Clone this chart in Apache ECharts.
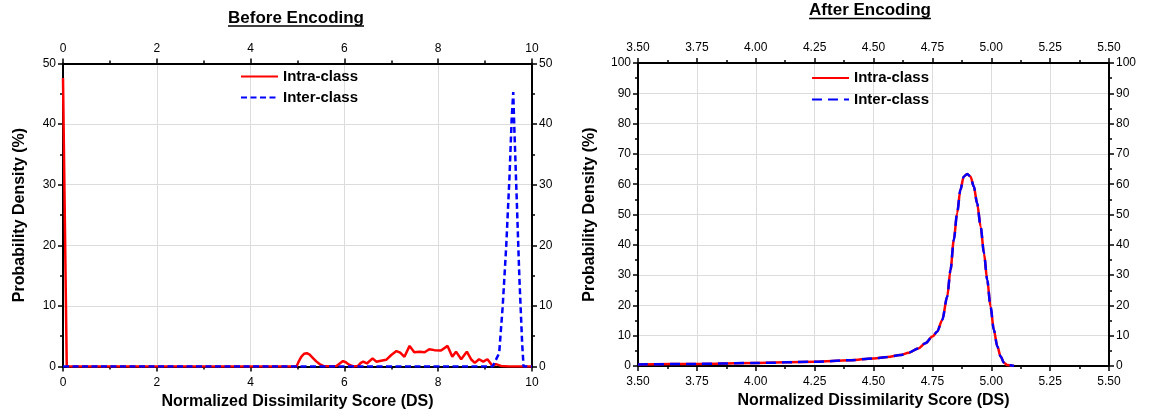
<!DOCTYPE html>
<html>
<head>
<meta charset="utf-8">
<script src="https://cdn.jsdelivr.net/npm/echarts@6/dist/echarts.min.js"></script>
<style>
  html, body { margin: 0; padding: 0; background: #fff; }
  #chart { width: 1149px; height: 418px; }
</style>
</head>
<body>
<div id="chart"></div>
<script>
// Probability density of normalized dissimilarity scores, [DS, density %]
const beforeIntra = [
  [0, 47.6], [0.08, 0], [1, 0], [2, 0], [3, 0], [4, 0], [4.98, 0],
  [5.03, 0.9], [5.08, 1.6], [5.14, 2.1], [5.2, 2.2], [5.26, 1.95], [5.33, 1.4],
  [5.4, 0.85], [5.47, 0.4], [5.55, 0.1], [5.7, 0.05], [5.83, 0.1], [5.9, 0.5],
  [5.97, 0.9], [6.03, 0.7], [6.1, 0.3], [6.19, 0], [6.29, 0.1], [6.35, 0.6],
  [6.4, 0.8], [6.48, 0.5], [6.6, 1.35], [6.68, 0.8], [6.78, 0.95], [6.89, 1.1],
  [7.0, 1.9], [7.11, 2.55], [7.19, 2.3], [7.28, 1.6], [7.39, 3.4], [7.49, 2.35],
  [7.6, 2.45], [7.71, 2.35], [7.81, 2.85], [7.92, 2.7], [8.06, 2.65], [8.2, 3.4],
  [8.3, 1.6], [8.38, 2.45], [8.49, 1.2], [8.61, 2.45], [8.7, 1.2], [8.78, 0.6],
  [8.87, 1.2], [8.96, 0.8], [9.05, 1.2], [9.16, 0.1], [9.23, 0.4], [9.34, 0.1],
  [9.5, 0], [10, 0]
];
const beforeInter = [
  [0, 0], [9.16, 0], [9.3, 2.2], [9.375, 9.9], [9.45, 19.8], [9.52, 31.3],
  [9.566, 40.7], [9.6, 45.3], [9.62, 40.1], [9.67, 28.6], [9.73, 14.8],
  [9.79, 3.8], [9.82, 0], [10, 0]
];
const afterIntra = [
  [3.5, 0.5], [3.75, 0.7], [4.0, 1.0], [4.25, 1.4], [4.4, 1.9], [4.5, 2.5],
  [4.56, 2.95], [4.614, 3.6], [4.65, 4.4], [4.69, 5.8], [4.72, 7.5], [4.75, 9.7],
  [4.77, 11.3], [4.792, 15.2], [4.813, 22.9], [4.827, 31.7], [4.841, 41.6],
  [4.855, 50.4], [4.869, 58.1], [4.883, 62.5], [4.898, 63.4], [4.912, 62.5],
  [4.926, 59.2], [4.94, 53.7], [4.955, 46], [4.969, 37.2], [4.983, 28.4],
  [4.997, 19.6], [5.011, 11.9], [5.026, 6.4], [5.04, 3.1], [5.054, 1.1],
  [5.068, 0.3], [5.097, 0]
];
const afterInter = [
  [3.5, 0.5], [3.75, 0.7], [4.0, 1.0], [4.25, 1.4], [4.4, 1.9], [4.5, 2.5],
  [4.56, 2.95], [4.614, 3.6], [4.65, 4.4], [4.69, 5.8], [4.72, 7.5], [4.75, 9.7],
  [4.77, 11.3], [4.792, 15.2], [4.813, 22.9], [4.827, 31.7], [4.841, 41.6],
  [4.855, 50.4], [4.869, 58.1], [4.883, 62.5], [4.898, 63.4], [4.912, 62.5],
  [4.926, 59.2], [4.94, 53.7], [4.955, 46], [4.969, 37.2], [4.983, 28.4],
  [4.997, 19.6], [5.011, 11.9], [5.026, 6.4], [5.04, 3.1], [5.054, 1.1],
  [5.068, 0.3], [5.097, 0]
];

const seriesNames = ['Intra-class', 'Inter-class'];
const panelTitles = ['Before Encoding', 'After Encoding'];
const xAxisName = 'Normalized Dissimilarity Score (DS)';
const yAxisName = 'Probability Density (%)';

const FONT = '"Liberation Sans", Arial, Helvetica, sans-serif';
const BLACK = '#000';

function xAxis(gridIndex, position, min, max, interval, decimals, named) {
  return {
    type: 'value', gridIndex, position, min, max, interval,
    name: named ? xAxisName : '',
    nameLocation: 'middle', nameGap: 24,
    nameTextStyle: { fontFamily: FONT, fontWeight: 'bold', fontSize: 16, color: BLACK },
    axisLine: { show: true, onZero: false, lineStyle: { color: BLACK, width: 2 } },
    axisTick: { show: true, inside: false, length: 5, lineStyle: { color: BLACK, width: 1.5 } },
    minorTick: { show: true, splitNumber: 2, length: 3, lineStyle: { color: BLACK, width: 1.5 } },
    axisLabel: {
      show: true, margin: position === 'top' ? 9 : 10, color: BLACK, fontFamily: FONT, fontSize: 12,
      formatter: v => v.toFixed(decimals)
    },
    splitLine: { show: position === 'bottom', lineStyle: { color: '#dcdcdc', width: 1 } },
    minorSplitLine: { show: false }
  };
}

function yAxis(gridIndex, position, max, interval, named, gap) {
  return {
    type: 'value', gridIndex, position, min: 0, max, interval,
    name: named ? yAxisName : '',
    nameLocation: 'middle', nameGap: gap, nameRotate: 90,
    nameTextStyle: { fontFamily: FONT, fontWeight: 'bold', fontSize: 16, color: BLACK },
    axisLine: { show: true, onZero: false, lineStyle: { color: BLACK, width: 2 } },
    axisTick: { show: true, inside: false, length: 5, lineStyle: { color: BLACK, width: 1.5 } },
    minorTick: { show: true, splitNumber: 2, length: 3, lineStyle: { color: BLACK, width: 1.5 } },
    axisLabel: { show: true, margin: 7, color: BLACK, fontFamily: FONT, fontSize: 12 },
    splitLine: { show: position === 'left', lineStyle: { color: '#dcdcdc', width: 1 } }
  };
}

function lineSeries(name, data, xi, yi, color, dash, width, smooth) {
  return {
    type: 'line', name, data, xAxisIndex: xi, yAxisIndex: yi,
    symbol: 'none', smooth, smoothMonotone: 'x',
    lineStyle: { color, width, type: dash || 'solid' },
    itemStyle: { color },
    emphasis: { disabled: true },
    animation: false, z: dash ? 3 : 2
  };
}

// underlined panel titles
const measureCtx = document.createElement('canvas').getContext('2d');
function titleGraphic(text, cx, cy, underlineY) {
  const font = 'bold 17px ' + FONT;
  measureCtx.font = font;
  const w = measureCtx.measureText(text).width;
  return [
    { type: 'text', x: cx, y: cy,
      style: { text, font, fill: BLACK, textAlign: 'center', textVerticalAlign: 'middle' } },
    { type: 'line', shape: { x1: cx - w / 2, y1: underlineY, x2: cx + w / 2, y2: underlineY },
      style: { stroke: BLACK, lineWidth: 1.5 } }
  ];
}

const legendCommon = {
  orient: 'vertical', itemWidth: 37, itemHeight: 14, padding: 0,
  itemStyle: { opacity: 0 },
  textStyle: { fontFamily: FONT, fontWeight: 'bold', fontSize: 15, color: BLACK },
  selectedMode: false
};

const chart = echarts.init(document.getElementById('chart'), null, { renderer: 'canvas' });
chart.setOption({
  animation: false,
  backgroundColor: '#fff',
  grid: [
    { left: 63, top: 63.5, width: 469, height: 303 },
    { left: 638, top: 63, width: 471, height: 303 }
  ],
  xAxis: [
    xAxis(0, 'bottom', 0, 10, 2, 0, true),
    xAxis(0, 'top', 0, 10, 2, 0, false),
    xAxis(1, 'bottom', 3.5, 5.5, 0.25, 2, true),
    xAxis(1, 'top', 3.5, 5.5, 0.25, 2, false)
  ],
  yAxis: [
    yAxis(0, 'left', 50, 10, true, 35),
    yAxis(0, 'right', 50, 10, false, 0),
    yAxis(1, 'left', 100, 10, true, 40),
    yAxis(1, 'right', 100, 10, false, 0)
  ],
  legend: [
    Object.assign({}, legendCommon, { left: 240, top: 69, itemGap: 6, data: ['Intra-class', 'Inter-class'] }),
    Object.assign({}, legendCommon, { left: 811, top: 70.5, itemGap: 6.5, data: ['Intra-class ', 'Inter-class '] })
  ],
  series: [
    lineSeries(seriesNames[0], beforeIntra, 0, 0, '#ff0000', null, 2.5, false),
    lineSeries(seriesNames[1], beforeInter, 0, 0, '#0000ff', [6, 3.5], 2.5, false),
    lineSeries(seriesNames[0] + ' ', afterIntra, 2, 2, '#ff0000', null, 2.5, 0.3),
    lineSeries(seriesNames[1] + ' ', afterInter, 2, 2, '#0000ff', [10, 6], 2.5, 0.3)
  ],
  graphic: [
    ...titleGraphic(panelTitles[0], 296, 18, 26),
    ...titleGraphic(panelTitles[1], 870, 10, 18.5)
  ]
});
</script>
</body>
</html>
